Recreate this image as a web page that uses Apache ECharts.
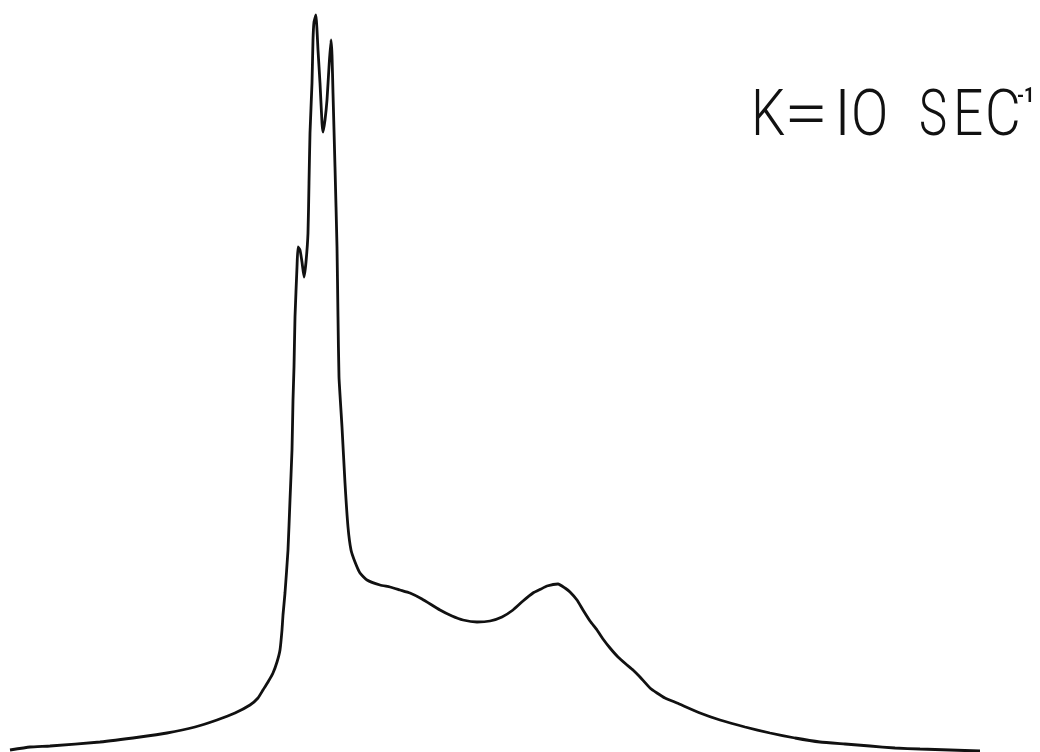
<!DOCTYPE html>
<html>
<head>
<meta charset="utf-8">
<script src="https://cdn.jsdelivr.net/npm/echarts@6/dist/echarts.min.js"></script>
<style>html,body{margin:0;padding:0;background:#fff}#c{width:1040px;height:752px}</style>
</head>
<body>
<div id="c"></div>
<script>
// Frequency position (arbitrary units, left to right) and recorded signal height above page bottom
const freq = [10,30,50,100,140,167,195,217,235,250,258,263,268,273,277,280,282,283,285,288,290,292,293,294,295,297,298,300,302,304,306,308,309,310,312,313,314,316,317,318,320,322,323,325,327,329,331,332,333,335,337,338,339,342,345,348,351,355,360,367,380,390,400,410,422,440,452,463,477,490,502,513,523,533,541,547,558,565,570,577,583,590,597,603,610,618,627,633,640,650,657,665,677,700,720,745,770,795,820,845,870,895,920,950,980];
const signal = [2,5,6,10,15,19,25,32,39,47,54,62,70,79,90,102,122,137,159,202,252,302,352,385,435,485,505,502,490,475,490,519,569,619,669,712,730,737,722,702,669,629,620,632,652,685,712,697,659,585,505,435,375,325,269,225,202,190,179,172,167,165,162,159,153,142,136,132,130,131,135,142,151,159,163,166,168,164,160,152,142,131,122,113,104,95,87,82,75,64,59,54,49,39,32,25,19,14,10,8,6,4,3,2,1];
// Label "K=10 SEC⁻¹", one glyph per entry
const labelChars = ['K', '=', 'I', 'O', 'S', 'E', 'C'];
const labelSup = '-1';

const charX = [751, 784, 834, 851, 919, 953, 985];
const charScale = [0.85, 1.25, 1, 0.86, 0.74, 0.83, 0.86];
const font = '300 64px Roboto, "DejaVu Sans", sans-serif';
const graphics = labelChars.map((ch, i) => ({
  type: 'text', x: charX[i], y: 87, scaleX: charScale[i],
  style: {text: ch, font: font, fill: '#111', textAlign: 'left', textVerticalAlign: 'top'}
}));
graphics.push({type: 'text', x: 1017, y: 87, scaleX: 0.9,
  style: {text: labelSup, font: 'bold 20px Roboto, "DejaVu Sans", sans-serif', fill: '#111', textAlign: 'left', textVerticalAlign: 'top'}});

const chart = echarts.init(document.getElementById('c'), null, {renderer: 'canvas'});
chart.setOption({
  animation: false,
  backgroundColor: '#ffffff',
  grid: {left: 0, right: 0, top: 0, bottom: 0},
  xAxis: {type: 'value', min: 0, max: 1040, show: false},
  yAxis: {type: 'value', min: 0, max: 752, show: false},
  graphic: graphics,
  series: [{
    type: 'line',
    data: freq.map((f, i) => [f, signal[i]]),
    showSymbol: false,
    smooth: 0.15,
    lineStyle: {color: '#111', width: 2.8},
    silent: true
  }]
});
</script>
</body>
</html>
